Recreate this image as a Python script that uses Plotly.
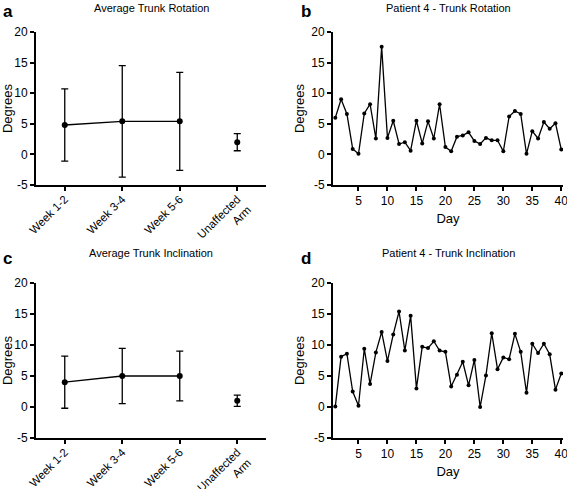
import plotly.graph_objects as go

weeks = ["Week 1-2", "Week 3-4", "Week 5-6"]
unaffected = ["Unaffected<br>Arm"]
categories = weeks + unaffected

rot_mean = [4.8, 5.4, 5.4]
rot_err = [5.9, 9.1, 8.0]
rot_un_mean = [2.0]
rot_un_err = [1.4]

inc_mean = [4.0, 5.0, 5.0]
inc_err = [4.2, 4.45, 4.0]
inc_un_mean = [1.0]
inc_un_err = [0.9]

days = list(range(1, 41))
p4_rotation = [6.0, 9.0, 6.6, 0.9, 0.1, 6.7, 8.2, 2.6, 17.6, 2.7,
               5.5, 1.7, 2.0, 0.6, 5.5, 1.8, 5.4, 2.6, 8.2, 1.2,
               0.5, 2.9, 3.1, 3.6, 2.2, 1.7, 2.7, 2.3, 2.3, 0.5,
               6.2, 7.1, 6.6, 0.1, 3.8, 2.6, 5.3, 4.2, 5.1, 0.8]
p4_inclination = [0.1, 8.1, 8.6, 2.5, 0.2, 9.4, 3.7, 8.8, 12.1, 7.4,
                  11.7, 15.4, 9.1, 14.7, 3.0, 9.7, 9.5, 10.6, 9.1, 8.9,
                  3.3, 5.2, 7.3, 3.5, 7.6, 0.0, 5.1, 11.9, 6.1, 8.0,
                  7.7, 11.8, 8.9, 2.3, 10.2, 8.7, 10.2, 8.5, 2.8, 5.4]

yticks = [-5, 0, 5, 10, 15, 20]
yticklabels = ["-5", "0", "5", "10", "15", "20"]
dayticks = [5, 10, 15, 20, 25, 30, 35, 40]

W, H = 567, 489
FONT = "Liberation Sans, Arial, sans-serif"

fig = go.Figure()

def avg_panel(xa, ya, mean, err, um, ue):
    fig.add_trace(go.Scatter(x=weeks, y=mean, mode="lines+markers",
                             line=dict(color="black", width=1.3),
                             marker=dict(color="black", size=6),
                             error_y=dict(type="data", array=err, visible=True,
                                          color="black", thickness=1.3, width=3.5),
                             xaxis=xa, yaxis=ya, showlegend=False))
    fig.add_trace(go.Scatter(x=unaffected, y=um, mode="markers",
                             marker=dict(color="black", size=6),
                             error_y=dict(type="data", array=ue, visible=True,
                                          color="black", thickness=1.3, width=3.5),
                             xaxis=xa, yaxis=ya, showlegend=False))

def day_panel(xa, ya, vals):
    fig.add_trace(go.Scatter(x=days, y=vals, mode="lines+markers",
                             line=dict(color="black", width=1.3),
                             marker=dict(color="black", size=4),
                             xaxis=xa, yaxis=ya, showlegend=False))

avg_panel("x", "y", rot_mean, rot_err, rot_un_mean, rot_un_err)
day_panel("x2", "y2", p4_rotation)
avg_panel("x3", "y3", inc_mean, inc_err, inc_un_mean, inc_un_err)
day_panel("x4", "y4", p4_inclination)

def px_x(a, b):
    return [a / W, b / W]

def px_y(top, bottom):
    return [1 - bottom / H, 1 - top / H]

tickfont = dict(family=FONT, size=12, color="black")
ax_common = dict(showline=True, linecolor="black", linewidth=2, showgrid=False,
                 zeroline=False, ticks="outside", ticklen=4, tickwidth=1.5,
                 tickcolor="black", tickfont=tickfont, automargin=False,
                 ticklabeloverflow="allow")

yax = dict(ax_common, range=[-5, 20], tickvals=yticks, ticktext=yticklabels,
           title=dict(text="Degrees", font=dict(family=FONT, size=13, color="black"), standoff=4))

cat_x = dict(ax_common, type="category", categoryorder="array", categoryarray=categories,
             range=[-0.5, 3.5], tickangle=-45, ticklabelstandoff=-3,
             tickfont=dict(family=FONT, size=11.5, color="black"))
day_x = dict(ax_common, range=[0.6, 40.3], tickvals=dayticks,
             title=dict(text="Day", font=dict(family=FONT, size=13, color="black"), standoff=6))

fig.update_layout(
    width=W, height=H,
    margin=dict(l=0, r=0, t=0, b=0, autoexpand=False),
    paper_bgcolor="white", plot_bgcolor="white",
    xaxis=dict(cat_x, domain=px_x(36, 266), anchor="y"),
    yaxis=dict(yax, domain=px_y(32, 185), anchor="x"),
    xaxis2=dict(day_x, domain=px_x(333, 563), anchor="y2"),
    yaxis2=dict(yax, domain=px_y(32, 185), anchor="x2"),
    xaxis3=dict(cat_x, domain=px_x(36, 266), anchor="y3"),
    yaxis3=dict(yax, domain=px_y(283, 438), anchor="x3"),
    xaxis4=dict(day_x, domain=px_x(333, 563), anchor="y4"),
    yaxis4=dict(yax, domain=px_y(283, 438), anchor="x4"),
)

titles = [("Average Trunk Rotation", 151, 8), ("Patient 4 - Trunk Rotation", 448, 8),
          ("Average Trunk Inclination", 151, 253), ("Patient 4 - Trunk Inclination", 448, 253)]
for text, x, y in titles:
    fig.add_annotation(text=text, x=x / W, y=1 - y / H, xref="paper", yref="paper",
                       showarrow=False, xanchor="center", yanchor="middle",
                       font=dict(family=FONT, size=11, color="black"))

letters = [("a", 1, 12), ("b", 299, 12), ("c", 1, 258), ("d", 299, 258)]
for text, x, y in letters:
    fig.add_annotation(text="<b>" + text + "</b>", x=x / W, y=1 - y / H, xref="paper", yref="paper",
                       showarrow=False, xanchor="left", yanchor="middle",
                       font=dict(family=FONT, size=17, color="black"))

fig.write_html("out.html", config={"displayModeBar": False},
               post_script="document.body.style.margin='0';document.body.style.overflow='hidden';")
